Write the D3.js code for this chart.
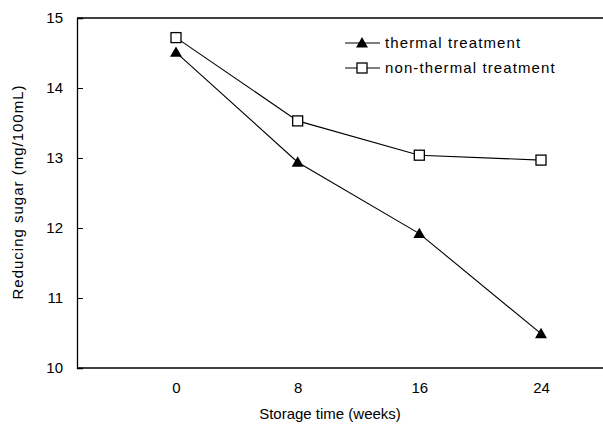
<!DOCTYPE html>
<html>
<head>
<meta charset="utf-8">
<script src="https://cdn.jsdelivr.net/npm/d3@7"></script>
<style>
  body { margin: 0; background: #fff; }
  text { font-family: "Liberation Sans", Arial, sans-serif; fill: #000; }
</style>
</head>
<body>
<div id="chart"></div>
<script>
// data
var weeks      = [0, 8, 16, 24];
var thermal    = [14.51, 12.94, 11.92, 10.49];
var nonThermal = [14.72, 13.53, 13.04, 12.97];
var yTicks     = [10, 11, 12, 13, 14, 15];
var seriesNames = ['thermal treatment', 'non-thermal treatment'];

var W = 603, H = 426;
var plotLeft = 77, plotTop = 18, plotBottom = 368;

var svg = d3.select('#chart').append('svg')
    .attr('width', W).attr('height', H);

var x = d3.scaleLinear().domain([0, 24]).range([176, 541]);
var y = d3.scaleLinear().domain([10, 15]).range([plotBottom, plotTop]);

// frame: left axis + top and bottom lines running off the right edge
svg.append('line').attr('x1', plotLeft).attr('x2', W).attr('y1', plotTop).attr('y2', plotTop)
   .attr('stroke', '#000').attr('stroke-width', 1.3);
svg.append('line').attr('x1', plotLeft).attr('x2', W).attr('y1', plotBottom).attr('y2', plotBottom)
   .attr('stroke', '#000').attr('stroke-width', 1.3);

// y axis, ticks pointing inward
var yAxis = svg.append('g')
    .attr('transform', 'translate(' + plotLeft + ',0)')
    .call(d3.axisRight(y).tickValues(yTicks).tickSize(6).tickFormat(d3.format('d')));
yAxis.select('.domain').attr('stroke-width', 1.3);
yAxis.selectAll('text')
    .attr('x', -14).attr('text-anchor', 'end')
    .style('font-size', '15px');

// x labels (no tick marks)
var xAxis = svg.append('g')
    .attr('transform', 'translate(0,' + plotBottom + ')')
    .call(d3.axisBottom(x).tickValues(weeks).tickSize(0).tickPadding(14));
xAxis.select('.domain').remove();
xAxis.selectAll('text').style('font-size', '15px');

svg.append('text')
   .attr('x', 330).attr('y', 419)
   .attr('text-anchor', 'middle').style('font-size', '15px')
   .text('Storage time (weeks)');

svg.append('text')
   .attr('transform', 'translate(23,192) rotate(-90)')
   .attr('text-anchor', 'middle').style('font-size', '15px')
   .style('letter-spacing', '1px')
   .text('Reducing sugar (mg/100mL)');

var line = d3.line()
    .x(function(d, i) { return x(weeks[i]); })
    .y(function(d) { return y(d); });

var tri = d3.symbol().type(d3.symbolTriangle).size(62);

function drawSeries(vals, marker) {
  svg.append('path').datum(vals)
     .attr('d', line).attr('fill', 'none')
     .attr('stroke', '#000').attr('stroke-width', 1.1);
  vals.forEach(function(v, i) {
    drawMarker(marker, x(weeks[i]), y(v));
  });
}

function drawMarker(marker, cx, cy) {
  if (marker == 'tri') {
    svg.append('path').attr('d', tri)
       .attr('transform', 'translate(' + cx + ',' + (cy + 1) + ')')
       .attr('fill', '#000');
  } else {
    svg.append('rect')
       .attr('x', cx - 5).attr('y', cy - 5)
       .attr('width', 10).attr('height', 10)
       .attr('fill', '#fff').attr('stroke', '#000').attr('stroke-width', 1.3);
  }
}

drawSeries(thermal, 'tri');
drawSeries(nonThermal, 'sq');

// legend
var markers = ['tri', 'sq'];
seriesNames.forEach(function(name, i) {
  var ly = 43 + i * 25;
  svg.append('line').attr('x1', 345).attr('x2', 380).attr('y1', ly).attr('y2', ly)
     .attr('stroke', '#000').attr('stroke-width', 1.1);
  drawMarker(markers[i], 362, ly);
  svg.append('text').attr('x', 385).attr('y', ly + 5)
     .style('font-size', '15px').style('letter-spacing', '1.1px')
     .text(name);
});
</script>
</body>
</html>
